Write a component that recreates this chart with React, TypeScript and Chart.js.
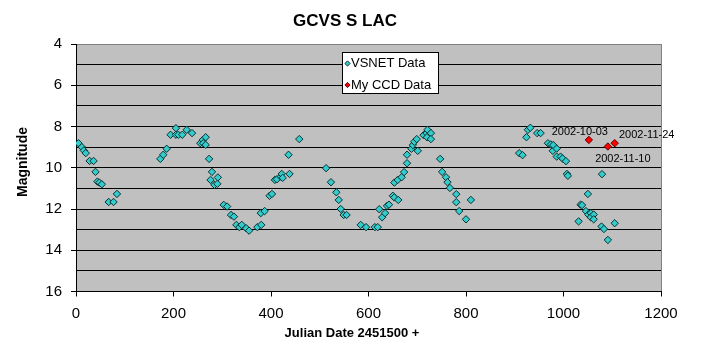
import React, { useEffect, useRef } from 'react';
import { Chart, registerables } from 'chart.js';

Chart.register(...registerables);

// ---- Data ----
const vsnetDays = [
  5, 12, 16, 20, 28, 36, 40, 44, 48, 53, 67, 77, 84,
  173, 179, 186, 194, 205, 205, 210, 218, 227, 238, 255, 260, 261, 266, 266, 273, 279, 276, 284, 291, 290,
  303, 310, 318, 324, 329, 335, 340, 349, 355, 372, 380, 379, 387, 397, 402, 408, 412, 420, 422, 424, 438, 436, 458,
  513, 523, 534, 539, 543, 549, 555, 584, 595, 613, 619, 622, 628, 634, 638, 642, 650, 653, 661, 653, 660, 668,
  673, 679, 679, 688, 691, 694, 699, 701, 713, 719, 721, 720, 728, 728, 747, 751, 759, 762, 767, 780, 780, 786, 800, 810,
  909, 916, 924, 927, 932, 946, 953, 968, 974, 978, 979, 986, 986, 994, 998, 1005, 1007, 1009,
  1031, 1035, 1038, 1046, 1050, 1051, 1056, 1056, 1062, 1062, 1078, 1083, 1079, 1091, 1105,
];
const vsnetMags = [
  8.81, 9.0, 9.16, 9.29, 9.67, 9.67, 10.2, 10.67, 10.72, 10.8, 11.66, 11.66, 11.27,
  9.57, 9.37, 9.08, 8.4, 8.08, 8.4, 8.4, 8.4, 8.16, 8.32, 8.81, 8.65, 8.81, 8.52, 8.89, 9.57, 10.2, 10.59, 10.83, 10.47, 10.78,
  11.8, 11.88, 12.29, 12.37, 12.77, 12.88, 12.77, 12.93, 13.05, 12.88, 12.77, 12.2, 12.1, 11.36, 11.27, 10.59, 10.56, 10.43, 10.3, 10.49, 10.3, 9.37, 8.61,
  10.02, 10.7, 11.19, 11.56, 12.0, 12.29, 12.29, 12.77, 12.88, 12.88, 12.88, 12.01, 12.4, 12.2, 11.85, 11.79, 11.36, 11.44, 11.56, 10.72, 10.59, 10.46,
  10.21, 9.78, 9.37, 9.08, 8.9, 8.74, 8.61, 9.18, 8.42, 8.32, 8.16, 8.52, 8.32, 8.61, 9.57, 10.2, 10.46, 10.7, 10.98, 11.28, 11.67, 12.1, 12.5, 11.56,
  9.29, 9.39, 8.52, 8.16, 8.06, 8.32, 8.32, 8.81, 8.87, 9.18, 8.9, 9.07, 9.46, 9.46, 9.55, 9.68, 10.3, 10.39,
  12.6, 11.79, 11.81, 12.1, 11.27, 12.27, 12.2, 12.4, 12.27, 12.5, 12.85, 12.97, 10.31, 13.5, 12.69,
];
const ccdDays = [1052, 1091, 1105];
const ccdMags = [8.65, 8.97, 8.81];
const ccdLabels = ['2002-10-03', '2002-11-10', '2002-11-24'];

const seriesNames = ['VSNET Data', 'My CCD Data'];
const chartTitle = 'GCVS S LAC';
const xTitle = 'Julian Date 2451500 +';
const yTitle = 'Magnitude';
const xMin = 0, xMax = 1200, xStep = 200;
const yMin = 4, yMax = 16, yStep = 1;

// ---- Styles ----
const FONT = '"Liberation Sans", Arial, sans-serif';
const CYAN = '#33cccc';
const CYAN_BORDER = '#0d2f2f';
const RED = '#ff0000';
const RED_BORDER = '#5a0000';
const PLOT_BG = '#c0c0c0';
const FRAME_GRAY = '#808080';
// label offsets (px) relative to each CCD point
const labelOffsets = [
  [-9, -8],
  [15, 12],
  [32, -8],
];

function diamond(ctx: CanvasRenderingContext2D, x: number, y: number, r: number, fill: string, stroke: string) {
  ctx.beginPath();
  ctx.moveTo(x - r, y);
  ctx.lineTo(x, y - r);
  ctx.lineTo(x + r, y);
  ctx.lineTo(x, y + r);
  ctx.closePath();
  ctx.fillStyle = fill;
  ctx.fill();
  ctx.lineWidth = 1;
  ctx.strokeStyle = stroke;
  ctx.stroke();
}

const decoPlugin = {
  id: 'deco',
  beforeDraw(chart: any) {
    const { ctx, chartArea: a } = chart;
    ctx.save();
    ctx.fillStyle = '#ffffff';
    ctx.fillRect(0, 0, chart.width, chart.height);
    ctx.fillStyle = PLOT_BG;
    ctx.fillRect(a.left, a.top, a.right - a.left, a.bottom - a.top);
    ctx.restore();
  },
  afterDatasetsDraw(chart: any) {
    const { ctx } = chart;
    ctx.save();
    // CCD labels
    const meta = chart.getDatasetMeta(1);
    ctx.font = `11px ${FONT}`;
    ctx.fillStyle = '#000';
    ctx.textAlign = 'center';
    ctx.textBaseline = 'middle';
    meta.data.forEach((pt: any, i: number) => {
      const [dx, dy] = labelOffsets[i] || [0, -10];
      ctx.fillText(ccdLabels[i], pt.x + dx, pt.y + dy);
    });
    // Legend box
    const bx = 342.5, by = 52.5, bw = 96, bh = 41;
    ctx.fillStyle = '#ffffff';
    ctx.fillRect(bx, by, bw, bh);
    ctx.strokeStyle = '#000';
    ctx.lineWidth = 1;
    ctx.strokeRect(bx, by, bw, bh);
    ctx.font = `13px ${FONT}`;
    ctx.textAlign = 'left';
    ctx.textBaseline = 'middle';
    const items = [
      { name: seriesNames[0], fill: CYAN, stroke: CYAN_BORDER, y: 63.5 },
      { name: seriesNames[1], fill: RED, stroke: RED_BORDER, y: 85 },
    ];
    items.forEach((it) => {
      diamond(ctx, 347.5, it.y, 2.6, it.fill, it.stroke);
      ctx.fillStyle = '#000';
      ctx.fillText(it.name, 351, it.y);
    });
    ctx.restore();
  },
  afterDraw(chart: any) {
    const { ctx } = chart;
    ctx.save();
    ctx.fillStyle = '#000';
    ctx.textAlign = 'center';
    ctx.textBaseline = 'middle';
    ctx.font = `bold 17px ${FONT}`;
    ctx.fillText(chartTitle, 345, 21);
    ctx.font = `bold 13px ${FONT}`;
    ctx.fillText(xTitle, 352, 333);
    ctx.translate(23, 162);
    ctx.rotate(-Math.PI / 2);
    ctx.font = `bold 14px ${FONT}`;
    ctx.fillText(yTitle, 0, 0);
    ctx.restore();
  },
};

export default function App() {
  const canvasRef = useRef<HTMLCanvasElement | null>(null);

  useEffect(() => {
    document.body.style.margin = '0';
    const canvas = canvasRef.current;
    if (!canvas) return;
    const vsnet = vsnetDays.map((d, i) => ({ x: d, y: vsnetMags[i] }));
    const ccd = ccdDays.map((d, i) => ({ x: d, y: ccdMags[i] }));
    const tickFont = { family: FONT, size: 15 };
    const chart = new Chart(canvas, {
      type: 'scatter',
      data: {
        datasets: [
          {
            label: seriesNames[0],
            data: vsnet,
            pointStyle: 'rectRot',
            pointRadius: 3.7,
            pointHoverRadius: 3.7,
            backgroundColor: CYAN,
            borderColor: CYAN_BORDER,
            borderWidth: 1,
          },
          {
            label: seriesNames[1],
            data: ccd,
            pointStyle: 'rectRot',
            pointRadius: 3.7,
            pointHoverRadius: 3.7,
            backgroundColor: RED,
            borderColor: RED_BORDER,
            borderWidth: 1,
          },
        ],
      },
      options: {
        responsive: false,
        animation: false,
        events: [],
        layout: { padding: { left: 0, right: 47, top: 44, bottom: 0 } },
        plugins: {
          legend: { display: false },
          title: { display: false },
          tooltip: { enabled: false },
        },
        scales: {
          x: {
            type: 'linear',
            min: xMin,
            max: xMax,
            ticks: {
              stepSize: xStep,
              font: tickFont,
              color: '#000',
              padding: 8,
              maxRotation: 0,
              autoSkip: false,
              callback: (v: any) => String(v),
            },
            grid: {
              color: (c: any) => (c.tick && c.tick.value === xMax ? FRAME_GRAY : 'rgba(0,0,0,0)'),
              tickColor: '#000',
              tickLength: 5,
              lineWidth: 1,
            },
            border: { color: '#000', width: 1 },
            afterFit: (s: any) => {
              s.height = 63.5;
            },
          },
          y: {
            type: 'linear',
            reverse: true,
            min: yMin,
            max: yMax,
            ticks: {
              stepSize: yStep,
              font: tickFont,
              color: '#000',
              padding: 9,
              autoSkip: false,
              callback: (v: any) => (Number(v) % 2 === 0 ? String(v) : ''),
            },
            grid: {
              color: (c: any) => (c.tick && c.tick.value === yMin ? FRAME_GRAY : '#000'),
              tickColor: (c: any) => (c.tick && c.tick.value % 2 === 0 ? '#000' : 'rgba(0,0,0,0)'),
              tickLength: 5,
              lineWidth: 1,
            },
            border: { color: '#000', width: 1 },
            afterFit: (s: any) => {
              s.width = 76;
            },
          },
        },
      },
      plugins: [decoPlugin],
    } as any);
    return () => {
      chart.destroy();
    };
  }, []);

  return (
    <div style={{ width: 708, height: 355 }}>
      <canvas ref={canvasRef} width={708} height={355} style={{ width: 708, height: 355, display: 'block' }} />
    </div>
  );
}
